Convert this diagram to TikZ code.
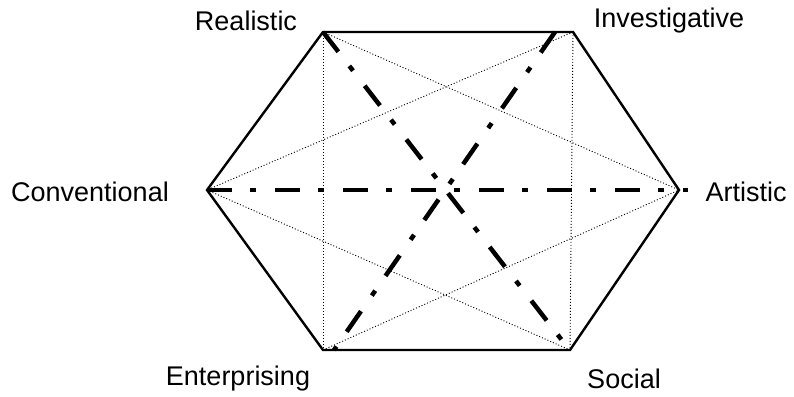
\documentclass[tikz,border=0pt]{standalone}
\usepackage{fontspec}
\setmainfont{Liberation Sans}
\begin{document}
\begin{tikzpicture}[x=1pt,y=-1pt,
  edge/.style={line width=2.4pt},
  dashdot/.style={line width=4.5pt,dash pattern=on 25pt off 18pt on 6pt off 19pt},
  dots/.style={line width=0.9pt,dash pattern=on 1pt off 2pt},
  lbl/.style={font=\fontsize{27}{31}\selectfont,inner sep=0pt}]
\useasboundingbox (0,0) rectangle (794,396);
\coordinate (R) at (323,32);
\coordinate (I) at (573,32);
\coordinate (A) at (679,190);
\coordinate (S) at (570,350);
\coordinate (E) at (323,350);
\coordinate (C) at (207,190);
\coordinate (Iend) at (555,32);
\coordinate (Eend) at (334,350);
\coordinate (Send) at (568,348);
\coordinate (Aend) at (688,190);
% dotted
\draw[dots] (R) -- (E);
\draw[dots] (I) -- (S);
\draw[dots] (R) -- (A);
\draw[dots] (I) -- (C);
\draw[dots] (C) -- (S);
\draw[dots] (E) -- (A);
% solid hexagon
\draw[edge,line join=miter] (R) -- (I) -- (A) -- (S) -- (E) -- (C) -- cycle;
% dash-dot
\draw[dashdot] (R) -- (Send);
\draw[dashdot] (Iend) -- (Eend);
\draw[dashdot] (C) -- (Aend);
% labels
\node[lbl] (lr) at (246,21) {Realistic};
\node[lbl] (li) at (669,21) {Investigative};
\node[lbl] (lc) at (90,192) {Conventional};
\node[lbl] (la) at (746,192) {Artistic};
\node[lbl] (le) at (238,379) {Enterprising};
\node[lbl] (ls) at (624,379) {Social};
\end{tikzpicture}
\end{document}
